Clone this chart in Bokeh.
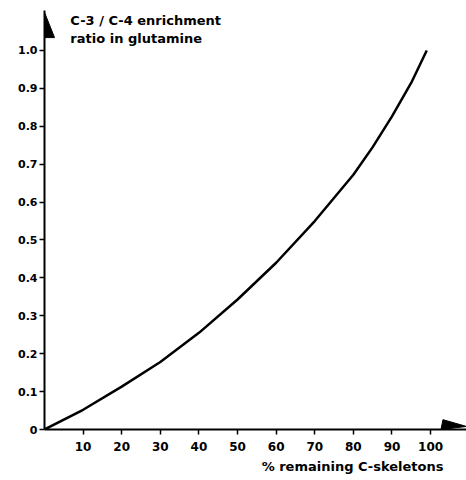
from bokeh.plotting import figure
from bokeh.models import Range1d, FixedTicker, Label, ColumnDataSource, Title
from bokeh.embed import file_html
from bokeh.resources import INLINE

# Data
pct_remaining = [0, 10, 20, 30, 40, 50, 60, 70, 80, 85, 90, 95, 99]
enrichment_ratio = [0, 0.052, 0.113, 0.178, 0.255, 0.343, 0.44, 0.55, 0.672, 0.745, 0.826, 0.915, 1.0]

x_ticks = [10, 20, 30, 40, 50, 60, 70, 80, 90, 100]
y_ticks = [0, 0.1, 0.2, 0.3, 0.4, 0.5, 0.6, 0.7, 0.8, 0.9, 1.0]
y_tick_labels = ["0", "0.1", "0.2", "0.3", "0.4", "0.5", "0.6", "0.7", "0.8", "0.9", "1.0"]

y_title_lines = ["C-3 / C-4 enrichment", "ratio in glutamine"]
x_title = "% remaining C-skeletons"

FONT = "DejaVu Sans"
XMAX = 109.3
YMAX = 1.1055

p = figure(width=466, height=480, output_backend="svg", toolbar_location=None,
           x_range=Range1d(0, XMAX), y_range=Range1d(0, YMAX),
           min_border_left=44, min_border_right=0, min_border_top=10, min_border_bottom=51)
p.outline_line_color = None
p.grid.visible = False
p.background_fill_color = "white"

src = ColumnDataSource(dict(x=pct_remaining, y=enrichment_ratio))
p.line("x", "y", source=src, line_color="black", line_width=2.5, line_join="round")

# axes styling
for ax in (p.xaxis[0], p.yaxis[0]):
    ax.axis_line_color = "black"
    ax.axis_line_width = 2
    ax.major_tick_line_color = "black"
    ax.major_tick_line_width = 1.5
    ax.major_tick_in = 0
    ax.major_tick_out = 5
    ax.minor_tick_line_color = None
    ax.major_label_text_font = FONT
    ax.major_label_text_font_style = "bold"
    ax.major_label_text_color = "black"

p.xaxis.ticker = FixedTicker(ticks=x_ticks)
p.xaxis.major_label_text_font_size = "12px"
p.xaxis.major_label_standoff = 7

p.yaxis.ticker = FixedTicker(ticks=y_ticks)
p.yaxis.major_label_overrides = {t: l for t, l in zip(y_ticks, y_tick_labels)}
p.yaxis.major_label_text_font_size = "11px"
p.yaxis.major_label_standoff = 2

# arrow heads
p.patch([0, 0, 2.6], [YMAX - 0.005, 1.034, 1.034], fill_color="black", line_color="black", line_width=1)
p.patch([XMAX - 6.6, XMAX - 6.1, XMAX], [0, 0.026, 0.008], fill_color="black", line_color="black", line_width=1)

# titles
p.add_layout(Label(x=6.7, y=1.079, text=y_title_lines[0], text_font=FONT, text_font_style="bold",
                   text_font_size="13px", text_baseline="middle", text_align="left", text_color="black"))
p.add_layout(Label(x=6.7, y=1.032, text=y_title_lines[1], text_font=FONT, text_font_style="bold",
                   text_font_size="13px", text_baseline="middle", text_align="left", text_color="black"))

xt = Title(text=x_title, align="right", offset=23, standoff=6,
           text_font=FONT, text_font_style="bold", text_font_size="13px", text_color="black")
p.add_layout(xt, "below")

open("out.html", "w").write(file_html(p, INLINE))
